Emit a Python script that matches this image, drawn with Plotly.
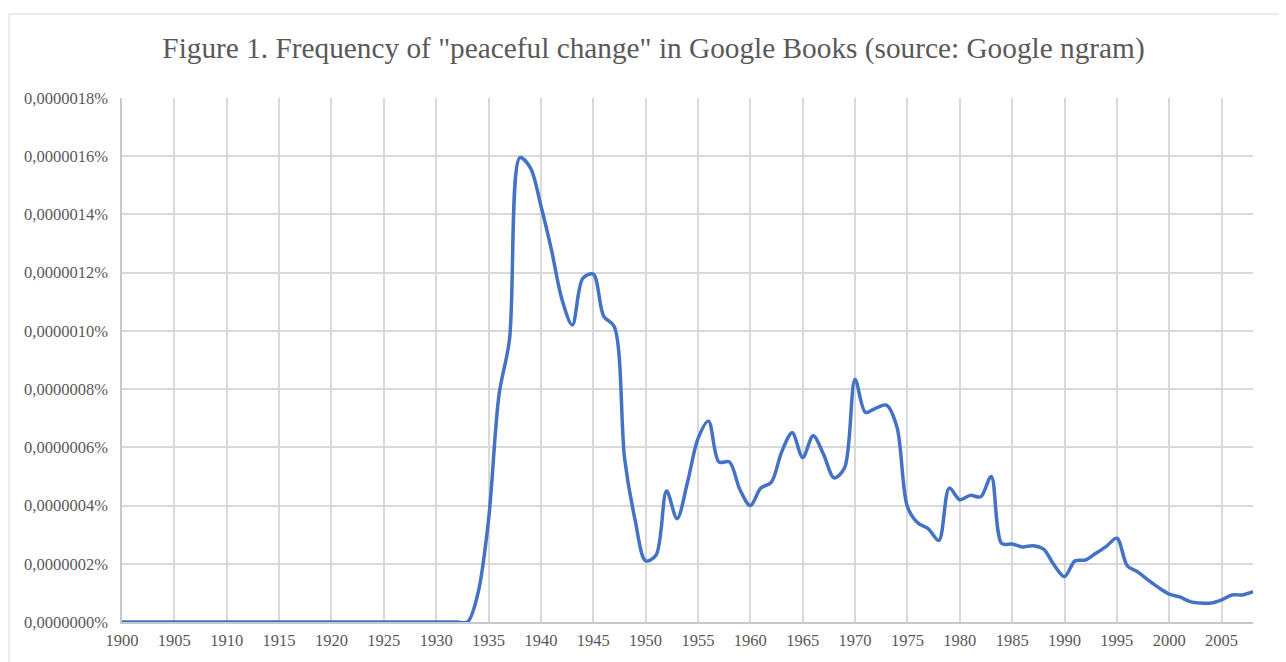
import plotly.graph_objects as go

years = list(range(1900, 2009))

# frequency in percent
early = [0.0] * 34  # 1900-1933
later_e6 = [
    0.10, 0.35, 0.78, 0.97, 1.595, 1.56, 1.43, 1.28, 1.11, 1.02,   # 1934-1943
    1.18, 1.195, 1.05, 1.015, 0.56, 0.35, 0.21, 0.23, 0.45, 0.355,  # 1944-1953
    0.48, 0.63, 0.69, 0.55, 0.55, 0.455, 0.40, 0.46, 0.48, 0.585,   # 1954-1963
    0.65, 0.565, 0.64, 0.575, 0.495, 0.53, 0.833, 0.72, 0.735, 0.745,  # 1964-1973
    0.67, 0.396, 0.34, 0.32, 0.28, 0.46, 0.42, 0.435, 0.43, 0.50,   # 1974-1983
    0.27, 0.268, 0.258, 0.262, 0.25, 0.196, 0.156, 0.21, 0.213, 0.236,  # 1984-1993
    0.26, 0.288, 0.193, 0.172, 0.144, 0.118, 0.096, 0.086, 0.07, 0.065,  # 1994-2003
    0.065, 0.076, 0.093, 0.093, 0.104,  # 2004-2008
]
frequency_pct = early + [v * 1e-6 for v in later_e6]

title_text = 'Figure 1. Frequency of "peaceful change" in Google Books (source: Google ngram)'
y_tick_vals = [i * 2e-7 for i in range(10)]
y_tick_text = [("%.7f" % v).replace(".", ",") + "%" for v in y_tick_vals]

SERIF = "Liberation Serif, Times New Roman, serif"

fig = go.Figure()
fig.add_trace(go.Scatter(
    x=years, y=frequency_pct, mode="lines",
    line=dict(color="#4472C4", width=3.5, shape="spline", smoothing=0.9),
    hoverinfo="x+y", showlegend=False,
))

# page body has an 8px margin; figure sized so it fits the 1286x662 window
W, H = 1278, 654
L, R, T, B = 114, 33, 90, 40
pw, ph = W - L - R, H - T - B

fig.update_layout(
    width=W, height=H,
    margin=dict(l=L, r=R, t=T, b=B, autoexpand=False),
    paper_bgcolor="white", plot_bgcolor="white",
    font=dict(family=SERIF, color="#595959", size=16.5),
    title=dict(text=title_text, x=(653.5 - 8) / W, xanchor="center", xref="container",
               y=1 - (48 - 8) / H, yanchor="middle",
               font=dict(size=29.3, color="#595959", family=SERIF)),
    xaxis=dict(range=[1900, 2008], tick0=1900, dtick=5, showgrid=True, automargin=False,
               gridcolor="#d9d9d9", gridwidth=1.5, showline=True, linecolor="#c8c8c8",
               linewidth=1.5, ticks="", zeroline=False, ticklabelstandoff=2,
               tickfont=dict(size=16.5, color="#595959", family=SERIF)),
    yaxis=dict(range=[0, 1.8e-6], tickvals=y_tick_vals, ticktext=y_tick_text, automargin=False,
               showgrid=True, gridcolor="#d9d9d9", gridwidth=1.5, showline=True,
               linecolor="#c8c8c8", linewidth=1.5, ticks="", zeroline=False,
               tickfont=dict(size=16.5, color="#595959", family=SERIF), ticklabelstandoff=9),
    shapes=[dict(type="rect", xref="paper", yref="paper",
                 x0=(1 - L) / pw, x1=(W + 10 - L) / pw,
                 y0=-(B + 10) / ph, y1=(H - B - 6) / ph,
                 line=dict(color="#d9d9d9", width=1), fillcolor="rgba(0,0,0,0)", layer="below")],
)

fig.write_html("out.html")
